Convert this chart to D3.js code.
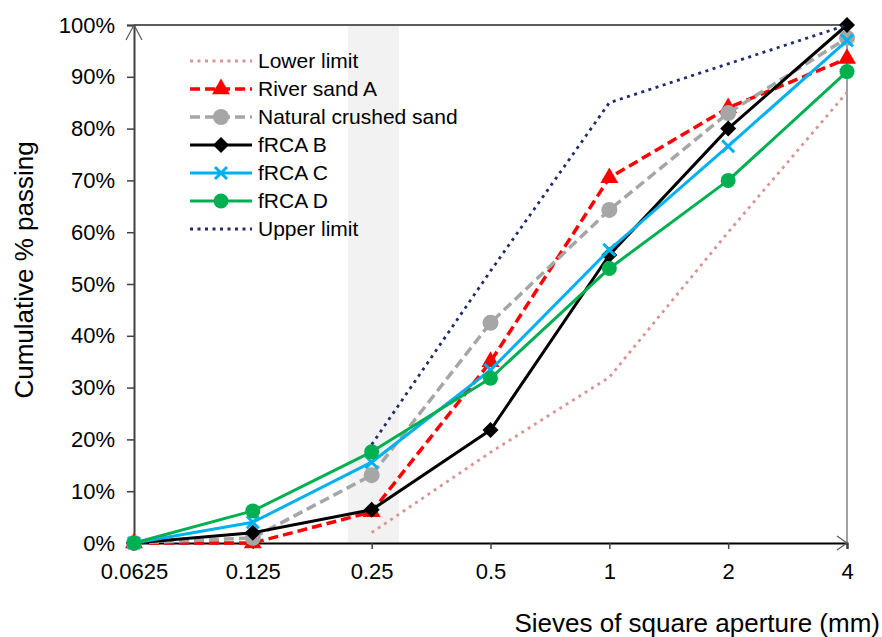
<!DOCTYPE html>
<html>
<head>
<meta charset="utf-8">
<script src="https://cdn.jsdelivr.net/npm/d3@7"></script>
<style>
  html, body { margin: 0; padding: 0; background: #fff; }
  svg { display: block; font-family: "Liberation Sans", Arial, sans-serif; }
</style>
</head>
<body>
<svg id="chart" width="882" height="637"></svg>
<script>
// ---- Data ----
const categories = ["0.0625", "0.125", "0.25", "0.5", "1", "2", "4"];
const yTicks = [0, 0.1, 0.2, 0.3, 0.4, 0.5, 0.6, 0.7, 0.8, 0.9, 1.0];

const lowerLimit   = [null, null, 0.02, 0.175, 0.32, 0.60, 0.87];
const riverSandA   = [0, 0, 0.06, 0.35, 0.705, 0.84, 0.935];
const naturalSand  = [0, 0.01, 0.131, 0.425, 0.643, 0.83, 0.975];
const fRCAB        = [0, 0.02, 0.064, 0.218, 0.556, 0.80, 1.0];
const fRCAC        = [0, 0.04, 0.156, 0.334, 0.566, 0.766, 0.97];
const fRCAD        = [0, 0.062, 0.176, 0.318, 0.53, 0.70, 0.91];
const upperLimit   = [null, null, 0.19, 0.525, 0.85, 0.925, 1.0];

const seriesNames = ["Lower limit", "River sand A", "Natural crushed sand", "fRCA B", "fRCA C", "fRCA D", "Upper limit"];
const seriesValues = [lowerLimit, riverSandA, naturalSand, fRCAB, fRCAC, fRCAD, upperLimit];

// ---- Styles ----
const styles = [
  {color: "#d99694", width: 2.8, dash: "3,4.5", marker: null},
  {color: "#ff0000", width: 3.5, dash: "10,5", marker: "triangle"},
  {color: "#a6a6a6", width: 3.5, dash: "10,5", marker: "bigcircle"},
  {color: "#000000", width: 3, dash: null, marker: "diamond"},
  {color: "#00b0f0", width: 3, dash: null, marker: "cross"},
  {color: "#00b050", width: 3, dash: null, marker: "circle"},
  {color: "#1f2d6b", width: 2.8, dash: "3,4.5", marker: null}
];

const svg = d3.select("#chart");
const pL = 134, pR = 847, pT = 25, pB = 543;

const x = d3.scalePoint().domain(categories).range([pL, pR]);
const y = d3.scaleLinear().domain([0, 1]).range([pB, pT]);

// Shaded band around 0.25
svg.append("rect")
  .attr("x", 348).attr("y", pT)
  .attr("width", 51).attr("height", pB - pT)
  .attr("fill", "#f2f2f2");

// Frame: top and right lines
svg.append("line").attr("x1", pL).attr("x2", pR).attr("y1", pT).attr("y2", pT)
  .attr("stroke", "#262626").attr("stroke-width", 1.5);
svg.append("line").attr("x1", pR).attr("x2", pR).attr("y1", pT).attr("y2", pB)
  .attr("stroke", "#7f7f7f").attr("stroke-width", 1.5);

// Y axis
const yAxis = svg.append("g").attr("transform", `translate(${pL},0)`)
  .call(d3.axisLeft(y).tickValues(yTicks).tickFormat(d3.format(".0%")).tickSize(7).tickPadding(12));
yAxis.select(".domain").attr("stroke", "#404040").attr("stroke-width", 2);
yAxis.selectAll(".tick line").attr("stroke", "#404040").attr("stroke-width", 1.5);
yAxis.selectAll(".tick text").attr("font-size", 22).attr("fill", "#000")
  .attr("font-family", "Liberation Sans, Arial, sans-serif");

// X axis
const xAxis = svg.append("g").attr("transform", `translate(0,${pB})`)
  .call(d3.axisBottom(x).tickSize(6).tickPadding(14));
xAxis.select(".domain").attr("stroke", "#000").attr("stroke-width", 2);
xAxis.selectAll(".tick line").attr("stroke", "#404040").attr("stroke-width", 1.5);
xAxis.selectAll(".tick text").attr("font-size", 22).attr("fill", "#000")
  .attr("font-family", "Liberation Sans, Arial, sans-serif");

// Arrows
svg.append("path")
  .attr("d", `M${pL - 8},${pT + 15} L${pL},${pT} L${pL + 8},${pT + 15}`)
  .attr("fill", "none").attr("stroke", "#595959").attr("stroke-width", 1.2);
svg.append("path")
  .attr("d", `M${pR - 10},${pB - 7} L${pR},${pB} L${pR - 10},${pB + 7}`)
  .attr("fill", "none").attr("stroke", "#595959").attr("stroke-width", 1.2);

// Marker drawing
function drawMarker(g, type, cx, cy, color) {
  if (!type) return;
  if (type === "triangle") {
    g.append("path").attr("d", d3.symbol(d3.symbolTriangle, 140)())
      .attr("transform", `translate(${cx},${cy})`).attr("fill", color);
  } else if (type === "bigcircle") {
    g.append("circle").attr("cx", cx).attr("cy", cy).attr("r", 8).attr("fill", color);
  } else if (type === "circle") {
    g.append("circle").attr("cx", cx).attr("cy", cy).attr("r", 7.5).attr("fill", color);
  } else if (type === "diamond") {
    const s = 8;
    g.append("path").attr("d", `M${cx},${cy - s} L${cx + s},${cy} L${cx},${cy + s} L${cx - s},${cy} Z`)
      .attr("fill", color);
  } else if (type === "cross") {
    const s = 6;
    g.append("path").attr("d", `M${cx - s},${cy - s} L${cx + s},${cy + s} M${cx - s},${cy + s} L${cx + s},${cy - s}`)
      .attr("stroke", color).attr("stroke-width", 3).attr("fill", "none");
  }
}

// Series
const line = d3.line()
  .defined(d => d.v !== null)
  .x(d => x(d.c))
  .y(d => y(d.v));

seriesValues.forEach((vals, i) => {
  const st = styles[i];
  const data = categories.map((c, j) => ({c: c, v: vals[j]}));
  const g = svg.append("g");
  g.append("path").datum(data)
    .attr("d", line)
    .attr("fill", "none")
    .attr("stroke", st.color)
    .attr("stroke-width", st.width)
    .attr("stroke-dasharray", st.dash)
    .attr("stroke-linejoin", "round");
  data.filter(d => d.v !== null).forEach(d => drawMarker(g, st.marker, x(d.c), y(d.v), st.color));
});

// Legend
const legX1 = 190, legX2 = 252, legTextX = 258, legY0 = 61, legDy = 28;
seriesNames.forEach((name, i) => {
  const st = styles[i];
  const yy = legY0 + i * legDy;
  const g = svg.append("g");
  g.append("line").attr("x1", legX1).attr("x2", legX2).attr("y1", yy).attr("y2", yy)
    .attr("stroke", st.color).attr("stroke-width", st.width)
    .attr("stroke-dasharray", st.dash);
  drawMarker(g, st.marker, (legX1 + legX2) / 2, yy, st.color);
  g.append("text").attr("x", legTextX).attr("y", yy).attr("dy", "0.35em")
    .attr("font-size", 21).attr("fill", "#000").text(name);
});

// Axis titles
svg.append("text")
  .attr("transform", `translate(33,270) rotate(-90)`)
  .attr("text-anchor", "middle")
  .attr("font-size", 26).attr("fill", "#000")
  .text("Cumulative % passing");

svg.append("text")
  .attr("x", 880).attr("y", 632)
  .attr("text-anchor", "end")
  .attr("font-size", 26).attr("fill", "#000")
  .text("Sieves of square aperture (mm)");
</script>
</body>
</html>
